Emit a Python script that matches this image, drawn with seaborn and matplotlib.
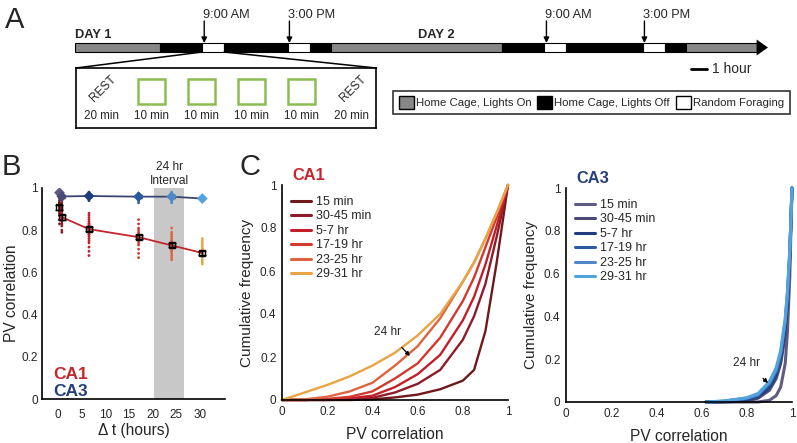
import numpy as np
import pandas as pd
import matplotlib
matplotlib.use('Agg')
import matplotlib.pyplot as plt
import seaborn as sns
from matplotlib.patches import Patch, Rectangle, ConnectionPatch
from matplotlib.lines import Line2D
from matplotlib.ticker import MultipleLocator, FuncFormatter

sns.set_theme(style='white')
plt.rcParams['font.family'] = ['Liberation Sans', 'DejaVu Sans']

W, H = 797, 443

# ---- panel A: timeline (hours from start of day 1) ----
seg_edges = [0, 6, 8.95, 10.5, 15, 16.55, 18, 30.05, 33.05, 34.6, 40, 41.55, 43.05, 48]
seg_kind = ['on', 'off', 'forage', 'off', 'forage', 'off', 'on',
            'off', 'forage', 'off', 'forage', 'off', 'on']
arrow_times = [9.1, 15.1, 33.2, 40.1]
arrow_labels = ['9:00 AM', '3:00 PM', '9:00 AM', '3:00 PM']
day_starts = [0, 24.15]
day_labels = ['DAY 1', 'DAY 2']

inset_kind = ['rest', 'run', 'run', 'run', 'run', 'rest']
inset_labels = ['20 min', '10 min', '10 min', '10 min', '10 min', '20 min']

cond_names = ['Home Cage, Lights On', 'Home Cage, Lights Off', 'Random Foraging']
cond_colors = {'on': '#878787', 'off': '#000000', 'forage': '#ffffff'}

# ---- panel B ----
times = [0.25, 0.75, 6.5, 17, 24, 30.5]
ca1_mean = [0.909, 0.862, 0.805, 0.767, 0.728, 0.692]
ca1_sem = [0.012, 0.012, 0.011, 0.011, 0.009, 0.008]
ca3_mean = [0.978, 0.960, 0.962, 0.959, 0.959, 0.950]
ca3_sem = [0.006, 0.006, 0.007, 0.006, 0.006, 0.004]
ca1_dots = [
    [0.95, 0.94, 0.93, 0.93, 0.92, 0.92, 0.91, 0.91, 0.90, 0.90, 0.89, 0.89, 0.88, 0.87, 0.85, 0.83],
    [0.93, 0.91, 0.90, 0.89, 0.88, 0.87, 0.87, 0.86, 0.86, 0.85, 0.85, 0.84, 0.83, 0.82, 0.80, 0.79],
    [0.88, 0.87, 0.86, 0.85, 0.84, 0.83, 0.83, 0.82, 0.82, 0.81, 0.81, 0.80, 0.80, 0.79, 0.79,
     0.78, 0.78, 0.77, 0.76, 0.75, 0.74, 0.72, 0.70, 0.68],
    [0.85, 0.83, 0.81, 0.80, 0.79, 0.78, 0.78, 0.77, 0.77, 0.76, 0.76, 0.75, 0.74, 0.73, 0.71, 0.69, 0.67],
    [0.81, 0.79, 0.78, 0.77, 0.76, 0.75, 0.75, 0.74, 0.74, 0.73, 0.73, 0.72, 0.72, 0.71, 0.71,
     0.70, 0.70, 0.69, 0.68, 0.67, 0.66],
    [0.76, 0.75, 0.74, 0.73, 0.72, 0.71, 0.71, 0.70, 0.70, 0.69, 0.69, 0.68, 0.68, 0.67, 0.66, 0.65, 0.64],
]
ca3_dots = [
    [0.99, 0.985, 0.98, 0.98, 0.975, 0.97],
    [0.98, 0.97, 0.965, 0.96, 0.955, 0.95, 0.945, 0.94],
    [0.98, 0.975, 0.97, 0.965, 0.96, 0.955, 0.95, 0.945, 0.94],
    [0.975, 0.97, 0.965, 0.96, 0.955, 0.95, 0.945, 0.94, 0.93],
    [0.98, 0.975, 0.97, 0.965, 0.96, 0.955, 0.95, 0.945, 0.94, 0.93],
    [0.96, 0.955, 0.95, 0.945, 0.94],
]
shade_span = (20.3, 26.6)

# ---- panel C: cumulative distributions ----
intervals = ['15 min', '30-45 min', '5-7 hr', '17-19 hr', '23-25 hr', '29-31 hr']
ca1_colors = ['#6e1a1c', '#8e1b2a', '#c21f2a', '#d23a2e', '#de6440', '#e9a444']
ca3_colors = ['#5e5c82', '#4a4a78', '#1f3c7c', '#2c5aa2', '#4f88c8', '#52a2de']

ca1_x = [0, 0.1, 0.2, 0.3, 0.4, 0.5, 0.6, 0.7, 0.8, 0.85, 0.9, 0.95, 1.0]
ca1_cdf = {
    '15 min':    [0, 0, 0, 0, 0.003, 0.012, 0.025, 0.05, 0.09, 0.14, 0.32, 0.64, 1.0],
    '30-45 min': [0, 0, 0, 0.003, 0.01, 0.035, 0.075, 0.14, 0.28, 0.39, 0.54, 0.76, 1.0],
    '5-7 hr':    [0, 0, 0.003, 0.008, 0.02, 0.06, 0.12, 0.21, 0.37, 0.48, 0.63, 0.81, 1.0],
    '17-19 hr':  [0, 0, 0.005, 0.015, 0.04, 0.10, 0.17, 0.29, 0.46, 0.57, 0.71, 0.85, 1.0],
    '23-25 hr':  [0, 0.003, 0.015, 0.04, 0.08, 0.16, 0.25, 0.38, 0.55, 0.64, 0.75, 0.87, 1.0],
    '29-31 hr':  [0, 0.035, 0.07, 0.11, 0.16, 0.22, 0.30, 0.40, 0.55, 0.64, 0.75, 0.87, 1.0],
}
ca3_x = [0.62, 0.7, 0.8, 0.85, 0.9, 0.93, 0.95, 0.97, 0.98, 0.99, 1.0]
ca3_cdf = {
    '15 min':    [0, 0, 0, 0, 0.008, 0.03, 0.07, 0.18, 0.33, 0.58, 1.0],
    '30-45 min': [0, 0, 0.005, 0.018, 0.055, 0.11, 0.18, 0.31, 0.45, 0.66, 1.0],
    '5-7 hr':    [0, 0.002, 0.01, 0.025, 0.07, 0.13, 0.21, 0.35, 0.48, 0.68, 1.0],
    '17-19 hr':  [0, 0.003, 0.015, 0.03, 0.08, 0.14, 0.22, 0.37, 0.50, 0.69, 1.0],
    '23-25 hr':  [0, 0.004, 0.018, 0.035, 0.09, 0.15, 0.23, 0.38, 0.51, 0.70, 1.0],
    '29-31 hr':  [0, 0.005, 0.02, 0.04, 0.095, 0.16, 0.24, 0.39, 0.52, 0.71, 1.0],
}

RED = '#c4262c'
NAVY = '#243f7a'


def px_axes(fig, left, top, width, height):
    return fig.add_axes([left / W, 1 - (top + height) / H, width / W, height / H])


def style_axes(ax):
    for side in ['top', 'right']:
        ax.spines[side].set_visible(False)
    for side in ['left', 'bottom']:
        ax.spines[side].set_color('black')
        ax.spines[side].set_linewidth(1.2)


fmt = FuncFormatter(lambda v, p: '%g' % round(v, 2))

fig = plt.figure(figsize=(W / 100, H / 100), dpi=100)

# ================= A =================
px_per_hr = 14.2
ax_tl = px_axes(fig, 75, 0, 49 * px_per_hr, 135)
ax_tl.set_xlim(0, 49)
ax_tl.set_ylim(135, 0)
ax_tl.axis('off')
bars = [(a, b - a) for a, b in zip(seg_edges[:-1], seg_edges[1:])]
ax_tl.broken_barh(bars, (43, 9), facecolors=[cond_colors[k] for k in seg_kind],
                  edgecolor='black', linewidth=0.8)
end = seg_edges[-1]
ax_tl.fill([end, end + 0.8, end], [39.5, 47.5, 55.5], color='black', lw=0)
for t, lab in zip(arrow_times, arrow_labels):
    ax_tl.annotate('', xy=(t, 43), xytext=(t, 21),
                   arrowprops=dict(arrowstyle='-|>', lw=1, color='black',
                                   shrinkA=0, shrinkB=0, mutation_scale=8))
    ax_tl.text(t - 0.1, 20.5, lab, ha='left', va='bottom', fontsize=9.2)
for d, lab in zip(day_starts, day_labels):
    ax_tl.text(d, 41, lab, ha='left', va='bottom', fontsize=9.3, fontweight='bold')
ax_tl.plot([43.4, 44.5], [69, 69], color='black', lw=2)
ax_tl.text(44.85, 69, '1 hour', ha='left', va='center', fontsize=10)

ax_in = px_axes(fig, 76, 68, 300, 60)
ax_in.set_xlim(-0.5, 5.5)
ax_in.set_ylim(0, 1)
ax_in.set_xticks([])
ax_in.set_yticks([])
for s in ax_in.spines.values():
    s.set_color('black')
    s.set_linewidth(1.2)
for i, (kind, lab) in enumerate(zip(inset_kind, inset_labels)):
    ax_in.text(i, 0.2, lab, ha='center', va='center', fontsize=8.4)
    if kind == 'run':
        ax_in.add_patch(Rectangle((i - 0.27, 0.40), 0.54, 0.42, fill=False,
                                  edgecolor='#8cbc52', lw=1.8))
    else:
        ax_in.text(i + 0.05, 0.66, 'REST', ha='center', va='center', rotation=45, fontsize=8.6)

first_forage = seg_kind.index('forage')
for xa, xb in [(seg_edges[first_forage], 0), (seg_edges[first_forage + 1], 1)]:
    fig.add_artist(ConnectionPatch(xyA=(xa, 52), coordsA=ax_tl.transData,
                                   xyB=(xb, 1), coordsB=ax_in.transAxes,
                                   color='black', lw=1.1))

handles = [Patch(facecolor=cond_colors[k], edgecolor='black', lw=1) for k in ['on', 'off', 'forage']]
leg = fig.legend(handles, cond_names, ncol=3, loc='center',
                 bbox_to_anchor=(591.5 / W, 1 - 102.5 / H), frameon=True, fancybox=False,
                 edgecolor='black', fontsize=8.2, handlelength=1.3, handleheight=1.3,
                 handletextpad=0.2, columnspacing=0.5, borderpad=0.5, borderaxespad=0)
leg.get_frame().set_linewidth(1.2)

fig.text(5 / W, 1 - 20 / H, 'A', fontsize=21, va='center', ha='left')

# ================= B =================
axB = px_axes(fig, 42, 188, 183, 211)
dot_rows = [(times[i], v, i) for i, vals in enumerate(ca1_dots) for v in vals]
dots1 = pd.DataFrame(dot_rows, columns=['t', 'pv', 'grp'])
dot_rows = [(times[i], v, i) for i, vals in enumerate(ca3_dots) for v in vals]
dots3 = pd.DataFrame(dot_rows, columns=['t', 'pv', 'grp'])

axB.axvspan(*shade_span, color='#c8c8c8', lw=0, zorder=0)
sns.scatterplot(data=dots1, x='t', y='pv', hue='grp', palette=ca1_colors, s=4,
                linewidth=0, legend=False, ax=axB, zorder=2)
sns.scatterplot(data=dots3, x='t', y='pv', hue='grp', palette=ca3_colors, s=4,
                linewidth=0, legend=False, ax=axB, zorder=2)
sns.lineplot(x=times, y=ca3_mean, color='#3c4472', lw=1.3, ax=axB, zorder=3)
sns.lineplot(x=times, y=ca1_mean, color=RED, lw=1.3, ax=axB, zorder=3)
axB.errorbar(times, ca3_mean, yerr=ca3_sem, fmt='none', ecolor='black', elinewidth=1,
             capsize=2.5, zorder=4)
sns.scatterplot(x=times, y=ca3_mean, hue=list(range(6)), palette=ca3_colors, marker='D',
                s=30, linewidth=0, legend=False, ax=axB, zorder=5)
axB.errorbar(times, ca1_mean, yerr=ca1_sem, fmt='s', mfc='none', mec='black', ms=5,
             mew=1, ecolor='black', elinewidth=1, capsize=3, zorder=5)

axB.set_xlim(-3.45, 35.3)
axB.set_ylim(0, 1)
axB.set_xticks([0, 5, 10, 15, 20, 25, 30])
axB.set_yticks([0, 0.2, 0.4, 0.6, 0.8, 1.0])
axB.yaxis.set_minor_locator(MultipleLocator(0.1))
axB.yaxis.set_major_formatter(fmt)
axB.tick_params(axis='y', which='both', direction='in', length=3.5, width=1, labelsize=8.5, pad=3)
axB.tick_params(axis='x', length=0, labelsize=8.5, pad=7)
style_axes(axB)
axB.set_xlabel('\u0394 t (hours)', fontsize=11.2, labelpad=2)
axB.set_ylabel('PV correlation', fontsize=11.2, labelpad=2)
axB.text(23.45, 1.005, 'Interval', ha='center', va='bottom', fontsize=8.6)
axB.text(23.45, 1.07, '24 hr', ha='center', va='bottom', fontsize=8.6)
axB.text(0.06, 0.115, 'CA1', transform=axB.transAxes, color=RED, fontsize=12.5,
         fontweight='bold', va='center')
axB.text(0.06, 0.035, 'CA3', transform=axB.transAxes, color=NAVY, fontsize=12.5,
         fontweight='bold', va='center')
fig.text(2 / W, 1 - 167 / H, 'B', fontsize=21, va='center', ha='left')


# ================= C =================
def cdf_panel(ax, xs, cdf, colors, title, title_color, lw, arrow_xy, text_xy):
    rows = [(x, y, name) for name in intervals for x, y in zip(xs, cdf[name])]
    df = pd.DataFrame(rows, columns=['pv', 'cdf', 'interval'])
    sns.lineplot(data=df, x='pv', y='cdf', hue='interval', hue_order=intervals,
                 palette=colors, lw=lw, legend=False, ax=ax, clip_on=False)
    ax.set_xlim(0, 1)
    ax.set_ylim(0, 1)
    ax.set_xticks([0, 0.2, 0.4, 0.6, 0.8, 1.0])
    ax.set_yticks([0, 0.2, 0.4, 0.6, 0.8, 1.0])
    ax.xaxis.set_minor_locator(MultipleLocator(0.1))
    ax.yaxis.set_minor_locator(MultipleLocator(0.1))
    ax.xaxis.set_major_formatter(fmt)
    ax.yaxis.set_major_formatter(fmt)
    ax.tick_params(axis='x', which='both', direction='in', length=5, width=1.1, labelsize=8.5, pad=4)
    ax.tick_params(axis='y', which='both', direction='in', length=3, width=1, labelsize=8.5, pad=4)
    style_axes(ax)
    ax.set_xlabel('PV correlation', fontsize=11.2, labelpad=7)
    ax.set_ylabel('Cumulative frequency', fontsize=11, labelpad=4)
    hs = [Line2D([0], [0], color=c, lw=2.2) for c in colors]
    ax.legend(hs, intervals, loc='upper left', bbox_to_anchor=(0.0, 0.99), frameon=False,
              fontsize=9, handlelength=1.6, handletextpad=0.4, labelspacing=0.2,
              borderaxespad=0.3)
    ax.text(0.045, 1.045, title, transform=ax.transAxes, color=title_color, fontsize=11.8,
            fontweight='bold', va='center')
    ax.annotate('24 hr', xy=arrow_xy, xytext=text_xy, ha='center', va='center', fontsize=8.6,
                arrowprops=dict(arrowstyle='-|>', color='black', lw=0.9, mutation_scale=6,
                                shrinkA=6, shrinkB=0))


axC1 = px_axes(fig, 282, 185, 226, 215)
cdf_panel(axC1, ca1_x, ca1_cdf, ca1_colors, 'CA1', RED, 1.7, (0.566, 0.205), (0.465, 0.316))
axC3 = px_axes(fig, 566, 188, 226, 214)
cdf_panel(axC3, ca3_x, ca3_cdf, ca3_colors, 'CA3', NAVY, 2.2, (0.894, 0.089), (0.80, 0.18))
fig.text(240 / W, 1 - 167 / H, 'C', fontsize=21, va='center', ha='left')

fig.savefig('out.png', dpi=100)
